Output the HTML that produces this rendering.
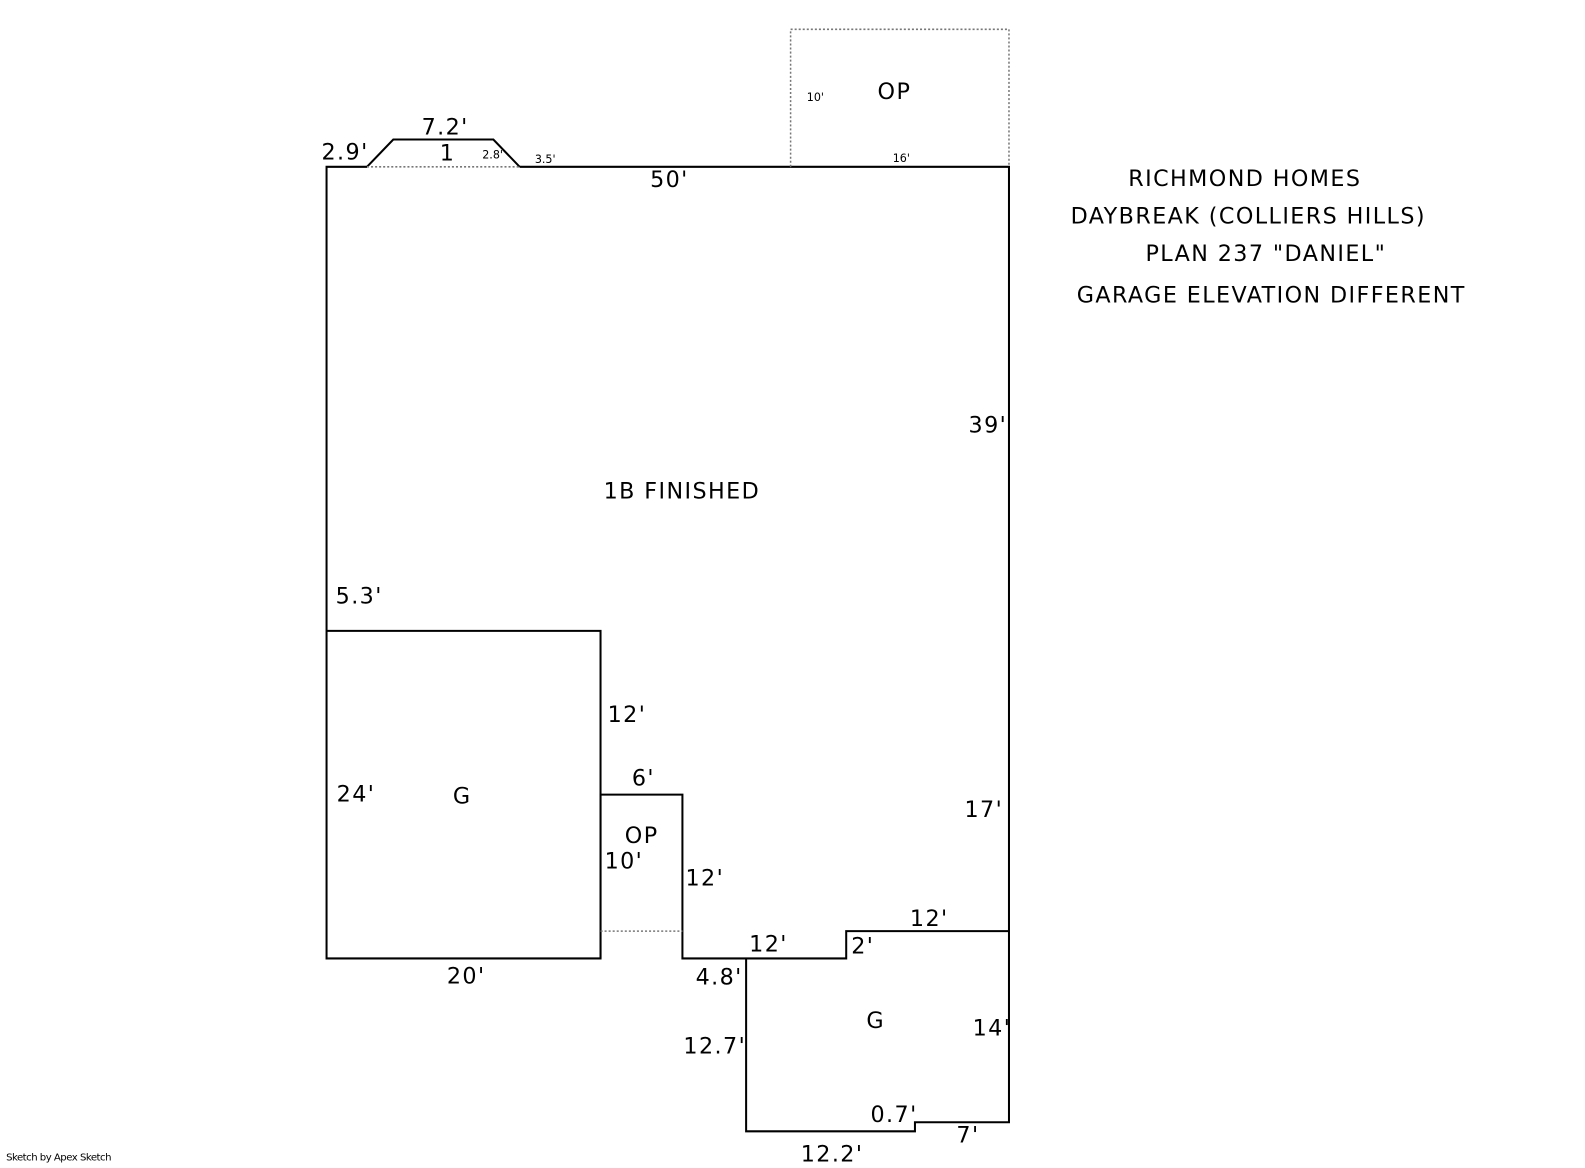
<!DOCTYPE html>
<html><head><meta charset="utf-8"><style>
html,body{margin:0;padding:0;background:#fff;}
svg text{font-family:"DejaVu Sans","Liberation Sans",sans-serif;fill:#000;}
</style></head><body>
<svg width="1585" height="1163" viewBox="0 0 1585 1163" xmlns="http://www.w3.org/2000/svg">
<g transform="scale(1.011)">
<g fill="none" stroke="#000" stroke-width="2">
<polyline points="782,165 998,165 998,1110 905,1110 905,1119 738,1119 738,948"/>
<line x1="514" y1="165" x2="782" y2="165"/>
<polyline points="363,165 323,165 323,948 594,948 594,624 323,624"/>
<polyline points="594,948 594,786 675,786 675,948 837,948 837,921 998,921"/>
<polyline points="363,165 389,138 488,138 514,165"/>
</g>
<g fill="none" stroke="#777" stroke-width="1.5" stroke-dasharray="2,2">
<line x1="363" y1="165" x2="514" y2="165"/>
<line x1="594" y1="921" x2="675" y2="921"/>
<polyline points="782,165 782,29 998,29 998,165"/>
</g>
<g font-size="22" letter-spacing="1.4">
<text x="318" y="158">2.9'</text>
<text x="417" y="133">7.2'</text>
<text x="435" y="159">1</text>
<text x="643" y="185">50'</text>
<text x="868" y="98">OP</text>
<text x="1116" y="184">RICHMOND HOMES</text>
<text x="1059" y="221">DAYBREAK (COLLIERS HILLS)</text>
<text x="1133" y="258">PLAN 237 "DANIEL"</text>
<text x="1065" y="299">GARAGE ELEVATION DIFFERENT</text>
<text x="958" y="428">39'</text>
<text x="597" y="493">1B FINISHED</text>
<text x="332" y="597">5.3'</text>
<text x="601" y="714">12'</text>
<text x="625" y="777">6'</text>
<text x="333" y="793">24'</text>
<text x="448" y="795">G</text>
<text x="954" y="808">17'</text>
<text x="618" y="834">OP</text>
<text x="598" y="859">10'</text>
<text x="678" y="876">12'</text>
<text x="900" y="916">12'</text>
<text x="741" y="941">12'</text>
<text x="842" y="943">2'</text>
<text x="442" y="973">20'</text>
<text x="688" y="974">4.8'</text>
<text x="857" y="1017">G</text>
<text x="962" y="1024">14'</text>
<text x="676" y="1042">12.7'</text>
<text x="861" y="1110">0.7'</text>
<text x="946" y="1130">7'</text>
<text x="792" y="1149">12.2'</text>
</g>
<g font-size="11">
<text x="477" y="157">2.8'</text>
<text x="529" y="161">3.5'</text>
<text x="798" y="100">10'</text>
<text x="883" y="160">16'</text>
</g>
<text x="6" y="1148" font-size="10" letter-spacing="-0.5">Sketch by Apex Sketch</text>
</g>
</svg>
</body></html>
